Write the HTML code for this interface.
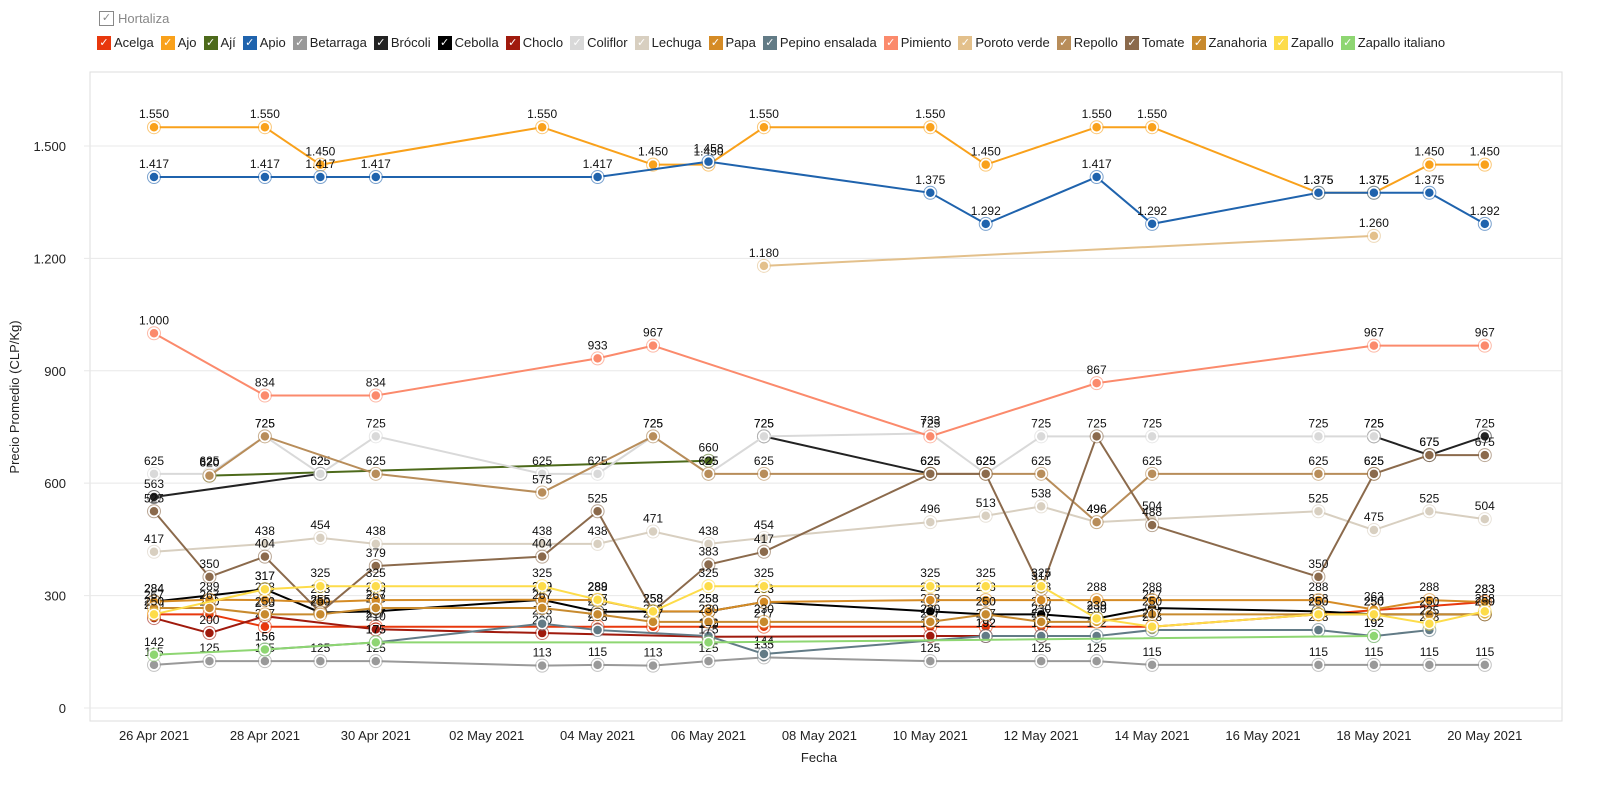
<!DOCTYPE html>
<html><head><meta charset="utf-8">
<style>
body{margin:0;background:#fff;font-family:"Liberation Sans",sans-serif;}
#wrap{position:relative;width:1600px;height:785px;overflow:hidden;}
#title{position:absolute;left:99px;top:11px;font-size:13px;color:#888;display:flex;align-items:center;}
#title .cb{width:13px;height:13px;border:1px solid #888;font-size:11px;line-height:13px;text-align:center;margin-right:4px;}
#legend{position:absolute;left:97px;top:35px;display:flex;gap:7px;font-size:13px;color:#222;}
.li{display:flex;align-items:center;white-space:nowrap;}
.sw{width:14px;height:14px;color:#fff;font-size:11px;line-height:14px;text-align:center;margin-right:3px;}
svg{position:absolute;left:0;top:0;}
</style></head><body>
<div id="wrap">
<div id="title"><div class="cb">✓</div>Hortaliza</div>
<div id="legend"></div>
<svg id="svg" width="1600" height="785"></svg>
</div>
<script>
const days=[0,1,2,3,4,7,8,9,10,11,14,15,16,17,18,21,22,23,24];
const yTicks=[0,300,600,900,1200,1500];
const xTickLabels={0:"26 Apr 2021",2:"28 Apr 2021",4:"30 Apr 2021",6:"02 May 2021",8:"04 May 2021",10:"06 May 2021",12:"08 May 2021",14:"10 May 2021",16:"12 May 2021",18:"14 May 2021",20:"16 May 2021",22:"18 May 2021",24:"20 May 2021"};
const names=["Acelga","Ajo","Ají","Apio","Betarraga","Brócoli","Cebolla","Choclo","Coliflor","Lechuga","Papa","Pepino ensalada","Pimiento","Poroto verde","Repollo","Tomate","Zanahoria","Zapallo","Zapallo italiano"];
const colors=["#e8380d","#f9a11b","#4d6a1b","#1f63ad","#999999","#222222","#000000","#a01a0d","#d9d9d9","#d8cfc0","#d58b25","#627b86","#fb8a6c","#e3c08b","#b88d5a","#8b6a4c","#c88a2e","#fddc4a","#8ed672"];
// values keyed by day offset from 26 Apr 2021 (null = gap in line)
const acelga={0:250,1:250,2:217,4:217,8:217,9:217,11:217,14:217,15:217,16:217,18:217,21:250,24:283};
const ajo={0:1550,2:1550,3:1450,7:1550,9:1450,10:1450,11:1550,14:1550,15:1450,17:1550,18:1550,21:1375,22:1375,23:1450,24:1450};
const aji={1:620,10:660};
const apio={0:1417,2:1417,3:1417,4:1417,8:1417,10:1458,14:1375,15:1292,17:1417,18:1292,21:1375,22:1375,23:1375,24:1292};
const betarraga={0:115,1:125,2:125,3:125,4:125,7:113,8:115,9:113,10:125,11:135,14:125,16:125,17:125,18:115,21:115,22:115,23:115,24:115};
const brocoli={0:563,3:625,4:null,11:725,14:625,15:null,22:725,23:675,24:725};
const cebolla={0:284,2:317,3:255,4:258,7:289,8:257,10:258,11:283,14:258,15:250,16:250,17:239,18:267,21:258,22:250,23:250,24:250};
const choclo={0:240,1:200,2:245,4:210,7:200,10:190,14:192,15:192,16:192};
const coliflor={0:625,1:625,2:725,3:625,4:725,7:625,8:625,9:725,10:625,11:725,14:733,15:625,16:725,18:725,21:725,22:725};
const lechuga={0:417,2:438,3:454,4:438,7:438,8:438,9:471,10:438,11:454,14:496,15:513,16:538,17:496,18:504,21:525,22:475,23:525,24:504};
const papa={0:284,1:289,2:288,3:283,4:288,7:289,8:288,9:258,10:258,11:283,14:288,15:288,16:288,17:288,18:288,21:288,22:263,23:288,24:283};
const pepino={2:156,4:175,7:225,8:208,10:192,11:144,15:192,16:192,17:192,18:208,21:208,22:192,23:208};
const pimiento={0:1000,2:834,4:834,8:933,9:967,14:725,17:867,22:967,24:967};
const poroto={11:1180,22:1260};
const repollo={1:620,2:725,4:625,7:575,9:725,10:625,11:625,14:625,15:625,16:625,17:496,18:625,21:625,22:625};
const tomate={0:525,1:350,2:404,3:255,4:379,7:404,8:525,9:258,10:383,11:417,14:625,15:625,16:317,17:725,18:488,21:350,22:625,23:675,24:675};
const zanahoria={0:267,1:267,2:250,3:250,4:267,7:267,8:250,9:230,10:230,11:230,14:230,15:250,16:230,17:230,18:250,21:250,22:250,23:250,24:250};
const zapallo={0:250,2:317,3:325,4:325,7:325,8:289,9:258,10:325,11:325,14:325,15:325,16:325,17:239,18:217,21:250,22:250,23:225,24:258};
const zapalloIt={0:142,2:156,4:175,10:175,22:192};
const seriesData=[acelga,ajo,aji,apio,betarraga,brocoli,cebolla,choclo,coliflor,lechuga,papa,pepino,pimiento,poroto,repollo,tomate,zanahoria,zapallo,zapalloIt];

const X=d=>154+d*55.45;
const Y=v=>708-v*0.3747;
const NS="http://www.w3.org/2000/svg";
const svg=document.getElementById('svg');
function mk(t,a,p){const e=document.createElementNS(NS,t);for(const k in a)e.setAttribute(k,a[k]);(p||svg).appendChild(e);return e;}
const fmt=v=>v>=1000?Math.floor(v/1000)+"."+String(v%1000).padStart(3,"0"):String(v);

let f=mk('rect',{x:90,y:72,width:1472,height:649,fill:'none',stroke:'#ddd'});


yTicks.forEach(v=>{
  const g=mk('line',{x1:84,x2:1562,y1:Y(v),y2:Y(v),stroke:'#e8e8e8'});
  
  
  const t=mk('text',{x:66,y:Y(v)+5,'text-anchor':'end','font-size':13,fill:'#222'});
  t.textContent=v===0?"0":fmt(v);
  
  
});
Object.keys(xTickLabels).forEach(d=>{
  const t=mk('text',{x:X(+d),y:740,'text-anchor':'middle','font-size':13,fill:'#222'});
  t.textContent=xTickLabels[d];
  
  
});
let xt=mk('text',{x:819,y:762,'text-anchor':'middle','font-size':13,fill:'#222'});xt.textContent="Fecha";


let yt=mk('text',{x:0,y:0,'text-anchor':'middle','font-size':13,fill:'#222',transform:'translate(19,397) rotate(-90)'});yt.textContent="Precio Promedio (CLP/Kg)";



const leg=document.getElementById('legend');
names.forEach((n,i)=>{
  const li=document.createElement('div');li.className='li';
  
  
  li.innerHTML='<div class="sw" style="background:'+colors[i]+'">✓</div>'+n;
  leg.appendChild(li);
});

seriesData.forEach((s,i)=>{
  const g=mk('g',{});
  
  
  const segs=[];let cur=[];
  days.forEach(d=>{
    if(!(d in s))return;
    if(s[d]===null){if(cur.length)segs.push(cur);cur=[];return;}
    cur.push([d,s[d]]);
  });
  if(cur.length)segs.push(cur);
  segs.forEach(pts=>{
    const pl=mk('polyline',{points:pts.map(p=>X(p[0])+','+Y(p[1])).join(' '),fill:'none',stroke:colors[i],'stroke-width':2},g);
    
    
  });
  segs.flat().forEach((p,j)=>{
    const c=mk('circle',{cx:X(p[0]),cy:Y(p[1]),r:5,fill:colors[i],stroke:'#fff','stroke-width':1.5},g);
    
    
    mk('circle',{cx:X(p[0]),cy:Y(p[1]),r:6.5,fill:'none',stroke:colors[i],'stroke-width':1,opacity:0.6},g);
    const t=mk('text',{x:X(p[0]),y:Y(p[1])-9,'text-anchor':'middle','font-size':12,fill:'#111'},g);
    t.textContent=fmt(p[1]);
    
    
  });
});
</script>
</body></html>
